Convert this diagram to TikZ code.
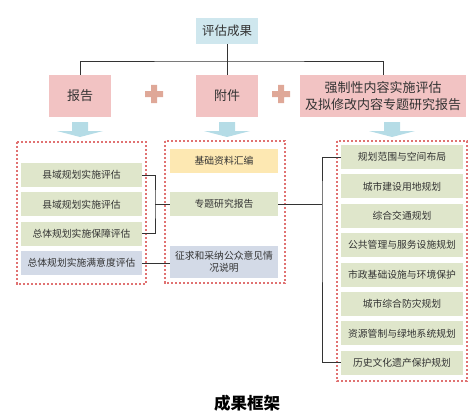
\documentclass[tikz,border=0pt]{standalone}
\usepackage{fontspec}
\newfontfamily\cjk{Noto Sans CJK SC}
\usetikzlibrary{positioning}

\definecolor{topblue}{HTML}{CFE7EE}
\definecolor{headpink}{HTML}{F2C3C3}
\definecolor{plusred}{HTML}{DFA898}
\definecolor{arrowblue}{HTML}{B5DCE6}
\definecolor{itemgreen}{HTML}{DFE6CB}
\definecolor{itemyellow}{HTML}{FDE8B2}
\definecolor{itemblue}{HTML}{D3DAE7}
\definecolor{dashred}{HTML}{E07272}
\definecolor{textgray}{HTML}{333333}

\begin{document}
\begin{tikzpicture}[
  x=1pt, y=-1pt,
  link/.style={line width=0.9pt, draw=black!80},
  title/.style={
    rectangle,
    fill=topblue,
    inner sep=0pt,
    minimum width=62pt,
    minimum height=26pt,
    text=textgray,
    font=\cjk\fontsize{12.5}{15}\selectfont
  },
  part/.style={
    rectangle,
    fill=headpink,
    inner sep=0pt,
    minimum height=42pt,
    align=center,
    text=textgray,
    font=\cjk\fontsize{13}{17}\selectfont
  },
  item/.style={
    rectangle,
    inner sep=0pt,
    minimum height=24pt,
    align=center,
    text=textgray,
    font=\cjk\fontsize{9.8}{12}\selectfont
  },
  group/.style={draw=dashred, line width=1.2pt, dash pattern=on 2.4pt off 1.6pt}
]
  \useasboundingbox (0,0) rectangle (474,420);

  % top level
  \node[title] (eval) at (227,31) {评估成果};
  \node[part, minimum width=62pt] (report) at (80,96) {报告};
  \node[part, minimum width=62pt] (annex) at (227,96) {附件};
  \node[part, minimum width=166pt] (special) at (383,96)
    {强制性内容实施评估\\及拟修改内容专题研究报告};
  \coordinate (bus) at (227,61);

  \draw[link] (eval) -- (annex);
  \draw[link] (report.north) |- (bus) -| (special.north);

  % plus signs and down arrows
  \foreach \x in {154,281}
    \fill[plusred] (\x-9,91) rectangle (\x+9,97) (\x-3,85) rectangle (\x+3,103);
  \foreach \x in {80,227,392}
    \fill[arrowblue] (\x-8,122) -- (\x+8,122) -- (\x+8,131) -- (\x+23,131)
      -- (\x,137) -- (\x-23,131) -- (\x-8,131) -- cycle;

  % report column
  \draw[group] (17,142) rectangle (146,284);
  \node[item, fill=itemgreen, minimum width=121pt] (county1) at (81.5,175) {县域规划实施评估};
  \node[item, fill=itemgreen, minimum width=121pt, below=5pt of county1] (county2) {县域规划实施评估};
  \node[item, fill=itemgreen, minimum width=121pt, below=5pt of county2] (county3) {总体规划实施保障评估};
  \node[item, fill=itemblue, minimum width=121pt, below=5pt of county3] (satisfy) {总体规划实施满意度评估};

  % annex column
  \draw[group] (165,141) rectangle (285,283);
  \node[item, fill=itemyellow, minimum width=108pt] (base) at (224,161) {基础资料汇编};
  \node[item, fill=itemgreen, minimum width=108pt] (topic) at (224,204) {专题研究报告};
  \node[item, fill=itemblue, minimum width=108pt, minimum height=32pt] (consult) at (224,262)
    {征求和采纳公众意见情\\况说明};

  % special column
  \draw[group] (337,141) rectangle (467,381);
  \node[item, fill=itemgreen, minimum width=122pt] (plan1) at (402,157) {规划范围与空间布局};
  \node[item, fill=itemgreen, minimum width=122pt, below=5pt of plan1] (plan2) {城市建设用地规划};
  \node[item, fill=itemgreen, minimum width=122pt, below=5pt of plan2] (plan3) {综合交通规划};
  \node[item, fill=itemgreen, minimum width=122pt, below=5pt of plan3] (plan4) {公共管理与服务设施规划};
  \node[item, fill=itemgreen, minimum width=122pt, below=5pt of plan4] (plan5) {市政基础设施与环境保护};
  \node[item, fill=itemgreen, minimum width=122pt, below=5pt of plan5] (plan6) {城市综合防灾规划};
  \node[item, fill=itemgreen, minimum width=122pt, below=5pt of plan6] (plan7) {资源管制与绿地系统规划};
  \node[item, fill=itemgreen, minimum width=122pt, below=5pt of plan7] (plan8) {历史文化遗产保护规划};

  % links between columns
  \coordinate (brkL) at (155,204);
  \coordinate (brkR) at (322,204);
  \draw[link] (county1.east) -| (brkL) |- (county3.east);
  \draw[link] (brkL) -- (topic.west);
  \draw[link] (satisfy.east) -- (consult.west |- satisfy.east);
  \draw[link] (topic.east) -- (brkR);
  \draw[link] (plan1.west) -| (brkR) |- (plan8.west);

  \node[font=\cjk\bfseries\fontsize{16.5}{18}\selectfont] (caption) at (247,403) {成果框架};
\end{tikzpicture}
\end{document}
